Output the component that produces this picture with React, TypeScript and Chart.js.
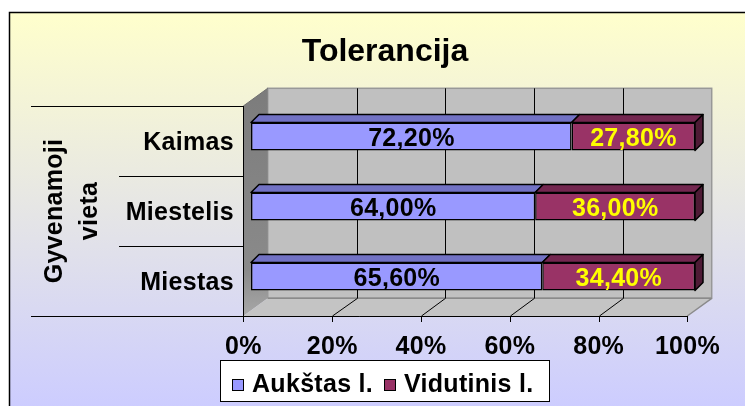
import React, { useEffect, useRef } from 'react';
import { Chart, registerables } from 'chart.js';

Chart.register(...registerables);

// ---- data ----
const categories = ['Kaimas', 'Miestelis', 'Miestas'];
const aukstas = [72.2, 64.0, 65.6];
const vidutinis = [27.8, 36.0, 34.4];
const seriesNames = ['Aukštas l.', 'Vidutinis l.'];
const xTicks = [0, 20, 40, 60, 80, 100];
const titleText = 'Tolerancija';
const axisTitleLines = ['Gyvenamoji', 'vieta'];

// ---- styles / geometry ----
const W = 745;
const H = 406;
const FONT = '"Liberation Sans", Arial, Helvetica, sans-serif';
const FRONT_DX = -7.7;
const FRONT_DY = 4.5;
const BACK_DX = 24.4;
const BACK_DY = -17.7;
const BAR_DX = 8;
const BAR_DY = -8;
const LABEL_SIZE = 25;
const LABEL_SPACING = 0.3;

const C = {
  blue: '#9999FF',
  blueTop: '#7272C4',
  red: '#993366',
  redTop: '#742750',
  redSide: '#4E1B35',
};

function drawText(
  ctx: CanvasRenderingContext2D,
  s: string,
  x: number,
  y: number,
  size: number,
  align: CanvasTextAlign,
  color: string,
  spacing = 0
) {
  ctx.save();
  ctx.font = `bold ${size}px ${FONT}`;
  ctx.fillStyle = color;
  ctx.textAlign = align;
  ctx.textBaseline = 'alphabetic';
  (ctx as any).letterSpacing = `${spacing}px`;
  ctx.fillText(s, x, y);
  ctx.restore();
}

function line(ctx: CanvasRenderingContext2D, x1: number, y1: number, x2: number, y2: number, color: string, w = 1) {
  ctx.save();
  ctx.strokeStyle = color;
  ctx.lineWidth = w;
  ctx.beginPath();
  ctx.moveTo(x1, y1);
  ctx.lineTo(x2, y2);
  ctx.stroke();
  ctx.restore();
}

const fmt = (v: number) => v.toFixed(2).replace('.', ',') + '%';

const scenePlugin = {
  id: 'scene3d',
  beforeDraw(chart: any) {
    const ctx: CanvasRenderingContext2D = chart.ctx;
    const xs = chart.scales.x;
    const ys = chart.scales.y;
    const n = categories.length;
    const band = ys.getPixelForValue(1) - ys.getPixelForValue(0);
    const fx = (v: number) => xs.getPixelForValue(v) + FRONT_DX;
    const fTop = ys.getPixelForValue(0) - band / 2 + FRONT_DY;
    const fBot = ys.getPixelForValue(n - 1) + band / 2 + FRONT_DY;
    const x0 = fx(0);
    const x1 = fx(100);
    const bx0 = x0 + BACK_DX;
    const bx1 = x1 + BACK_DX;
    const bTop = fTop + BACK_DY;
    const bBot = fBot + BACK_DY;

    ctx.save();
    ctx.fillStyle = '#ffffff';
    ctx.fillRect(0, 0, W, H);

    // chart frame with gradient
    const g = ctx.createLinearGradient(0, 12, 0, 410);
    g.addColorStop(0, '#FFFFCC');
    g.addColorStop(1, '#CCCCFF');
    ctx.fillStyle = g;
    ctx.fillRect(9, 12, W, H);
    ctx.strokeStyle = '#000';
    ctx.lineWidth = 1.5;
    ctx.strokeRect(9.5, 12.5, W + 20, H + 20);

    // back wall
    ctx.fillStyle = '#C0C0C0';
    ctx.fillRect(bx0, bTop, bx1 - bx0, bBot - bTop);
    ctx.strokeStyle = '#989898';
    ctx.lineWidth = 1.5;
    ctx.strokeRect(bx0, bTop, bx1 - bx0, bBot - bTop);

    // side wall
    const sg = ctx.createLinearGradient(0, bTop, 0, fBot);
    sg.addColorStop(0, '#7C7C7C');
    sg.addColorStop(0.8, '#8A8A8A');
    sg.addColorStop(1, '#A8A8A8');
    ctx.fillStyle = sg;
    ctx.beginPath();
    ctx.moveTo(x0, fTop);
    ctx.lineTo(bx0, bTop);
    ctx.lineTo(bx0, bBot);
    ctx.lineTo(x0, fBot);
    ctx.closePath();
    ctx.fill();

    // floor
    ctx.fillStyle = '#C4C4C4';
    ctx.beginPath();
    ctx.moveTo(x0, fBot);
    ctx.lineTo(x1, fBot);
    ctx.lineTo(bx1, bBot);
    ctx.lineTo(bx0, bBot);
    ctx.closePath();
    ctx.fill();
    line(ctx, bx0, bBot, bx1, bBot, '#8A8A8A', 1.5);
    line(ctx, x1, fBot, bx1, bBot, '#8A8A8A', 1.5);
    line(ctx, x0, fTop, bx0, bTop, '#707070', 1);

    // gridlines on wall and floor
    xTicks.forEach((t) => {
      if (t === 0 || t === 100) return;
      const f = Math.round(fx(t)) + 0.5;
      const b = Math.round(fx(t) + BACK_DX) + 0.5;
      line(ctx, b, bTop, b, bBot, '#000', 1);
      line(ctx, b, bBot, f, fBot, '#000', 1);
    });

    // category separators + axes
    const bounds: number[] = [fTop];
    for (let i = 0; i < n - 1; i++) {
      bounds.push((ys.getPixelForValue(i) + ys.getPixelForValue(i + 1)) / 2 + FRONT_DY);
    }
    bounds.push(fBot);
    bounds.forEach((yy, i) => {
      const y = Math.round(yy) + 0.5;
      const outer = i === 0 || i === bounds.length - 1;
      line(ctx, outer ? 31 : 119, y, i === bounds.length - 1 ? x1 : x0, y, '#000', 1);
    });
    line(ctx, Math.round(x0) + 0.5, fTop, Math.round(x0) + 0.5, fBot, '#000', 1);
    xTicks.forEach((t) => {
      const f = Math.round(fx(t)) + 0.5;
      line(ctx, f, fBot, f, fBot + 6, '#000', 1);
      drawText(ctx, `${t}%`, fx(t) + LABEL_SPACING / 2, 354, LABEL_SIZE, 'center', '#000', LABEL_SPACING);
    });

    // category labels
    categories.forEach((c, i) => {
      const cy = ys.getPixelForValue(i) + FRONT_DY;
      drawText(ctx, c, 234, cy + 9, LABEL_SIZE, 'right', '#000', LABEL_SPACING);
    });

    // axis title (rotated, two lines)
    const midY = (fTop + fBot) / 2;
    const baselines = [62, 97];
    axisTitleLines.forEach((s, i) => {
      ctx.save();
      ctx.translate(baselines[i], midY);
      ctx.rotate(-Math.PI / 2);
      drawText(ctx, s, 0, 0, LABEL_SIZE, 'center', '#000', LABEL_SPACING);
      ctx.restore();
    });

    // title
    drawText(ctx, titleText, 385, 60.5, 32, 'center', '#000', 0);

    // legend
    ctx.fillStyle = '#ffffff';
    ctx.fillRect(220, 360, 329, 41);
    ctx.strokeStyle = '#000';
    ctx.lineWidth = 1;
    ctx.strokeRect(220.5, 360.5, 329, 41);
    const legendItems = [
      { name: seriesNames[0], color: C.blue, mx: 232, tx: 252 },
      { name: seriesNames[1], color: C.red, mx: 384, tx: 404 },
    ];
    legendItems.forEach((it) => {
      ctx.fillStyle = it.color;
      ctx.fillRect(it.mx, 379, 12, 12);
      ctx.strokeStyle = '#000';
      ctx.lineWidth = 1;
      ctx.strokeRect(it.mx + 0.5, 379.5, 11, 11);
      drawText(ctx, it.name, it.tx, 392, LABEL_SIZE, 'left', '#000', LABEL_SPACING);
    });
    ctx.restore();
  },
  afterDatasetsDraw(chart: any) {
    const ctx: CanvasRenderingContext2D = chart.ctx;
    const nSets = chart.data.datasets.length;
    const tops = [C.blueTop, C.redTop];
    const labelColors = ['#000000', '#FFFF00'];
    ctx.save();
    for (let di = 0; di < nSets; di++) {
      const meta = chart.getDatasetMeta(di);
      meta.data.forEach((el: any, i: number) => {
        const p = el.getProps(['x', 'y', 'base', 'height'], true);
        const l = Math.min(p.x, p.base);
        const r = Math.max(p.x, p.base);
        const t = p.y - p.height / 2;
        const b = p.y + p.height / 2;
        ctx.lineWidth = 1.5;
        ctx.strokeStyle = '#000';
        ctx.lineJoin = 'round';
        // top face
        ctx.fillStyle = tops[di];
        ctx.beginPath();
        ctx.moveTo(l, t);
        ctx.lineTo(l + BAR_DX, t + BAR_DY);
        ctx.lineTo(r + BAR_DX, t + BAR_DY);
        ctx.lineTo(r, t);
        ctx.closePath();
        ctx.fill();
        ctx.stroke();
        if (di === nSets - 1) {
          ctx.fillStyle = C.redSide;
          ctx.beginPath();
          ctx.moveTo(r, t);
          ctx.lineTo(r + BAR_DX, t + BAR_DY);
          ctx.lineTo(r + BAR_DX, b + BAR_DY);
          ctx.lineTo(r, b);
          ctx.closePath();
          ctx.fill();
          ctx.stroke();
        }
        const v = chart.data.datasets[di].data[i];
        drawText(ctx, fmt(v), (l + r) / 2 + LABEL_SPACING / 2, p.y + 9, 25, 'center', labelColors[di], LABEL_SPACING);
      });
    }
    ctx.restore();
  },
};

export default function App() {
  const canvasRef = useRef<HTMLCanvasElement | null>(null);

  useEffect(() => {
    const canvas = canvasRef.current;
    if (!canvas) return;
    const chart = new Chart(canvas, {
      type: 'bar',
      data: {
        labels: categories,
        datasets: [
          {
            label: seriesNames[0],
            data: aukstas,
            backgroundColor: C.blue,
            borderColor: '#000',
            borderWidth: 1.5,
            borderSkipped: false,
            categoryPercentage: 0.4,
            barPercentage: 1,
          },
          {
            label: seriesNames[1],
            data: vidutinis,
            backgroundColor: C.red,
            borderColor: '#000',
            borderWidth: 1.5,
            borderSkipped: false,
            categoryPercentage: 0.4,
            barPercentage: 1,
          },
        ],
      },
      options: {
        indexAxis: 'y',
        responsive: false,
        animation: false,
        devicePixelRatio: 1,
        layout: { padding: { left: 251, right: 50, top: 101.5, bottom: 94.5 } },
        scales: {
          x: { stacked: true, min: 0, max: 100, display: false },
          y: { stacked: true, display: false },
        },
        plugins: {
          legend: { display: false },
          title: { display: false },
          tooltip: { enabled: false },
        },
      },
      plugins: [scenePlugin],
    });
    return () => chart.destroy();
  }, []);

  return (
    <div style={{ position: 'absolute', left: 0, top: 0, width: W, height: H }}>
      <canvas ref={canvasRef} width={W} height={H} style={{ display: 'block' }} />
    </div>
  );
}
